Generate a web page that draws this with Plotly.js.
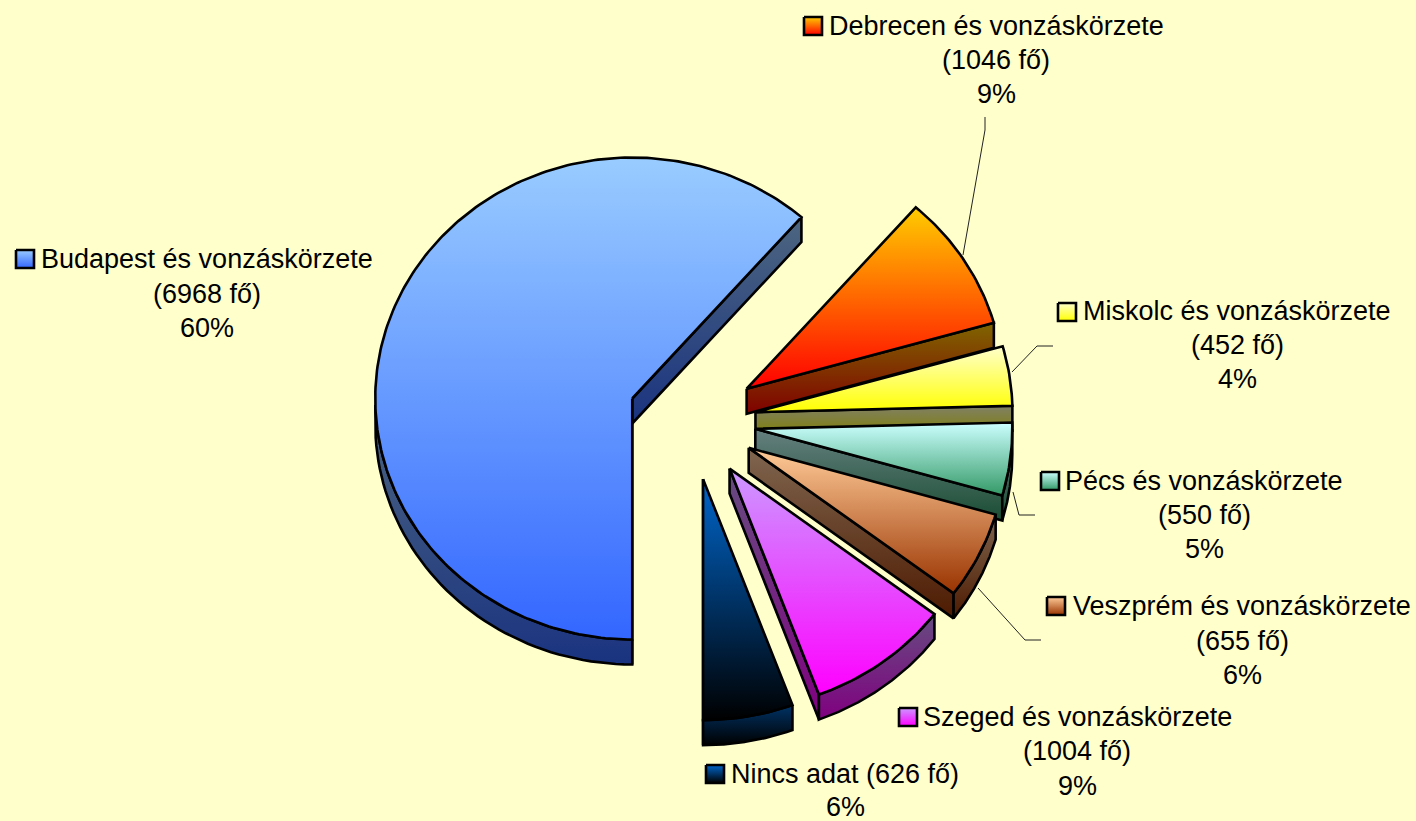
<!DOCTYPE html>
<html><head><meta charset="utf-8">
<script src="https://cdn.plot.ly/plotly-3.0.1.min.js"></script>
<style>html,body{margin:0;padding:0;background:#ffffcc;overflow:hidden}#c{width:1416px;height:821px}</style>
</head><body><div id="c"></div>
<script>
// ---- data ----
const categories = ["Budapest és vonzáskörzete","Debrecen és vonzáskörzete","Miskolc és vonzáskörzete","Pécs és vonzáskörzete","Veszprém és vonzáskörzete","Szeged és vonzáskörzete","Nincs adat"];
const persons = [6968,1046,452,550,655,1004,626];
const percents = [60,9,4,5,6,9,6];

// ---- styles ----
const topColors = ["#99ccff","#ffcc00","#ffffcc","#ccffff","#ffcc99","#cc99ff","#0066cc"];
const bottomColors = ["#3366ff","#ff0000","#ffff00","#339966","#993300","#ff00ff","#000000"];
const sideTop = ["#4d6680","#806600","#808066","#668080","#806650","#664d80","#003366"];
const sideBottom = ["#1a3380","#800000","#808000","#1a4d33","#4d1a00","#800080","#000000"];

// ---- layout of the drawing ----
const centerX = 692, centerY = 420, radiusX = 257, radiusY = 241, depth = 25, explode = 64;
const startAngle = 180, perspective = 1.2;
const labelX = [207,996,1237,1204,1242,1077,845];
const labelY = [[259,294,328],[26,60,94],[311,345,379],[481,515,549],[606,641,675],[717,751,786],[774,807]];
const keyX = [25,813,1067,1050,1056,908,715];
const keyY = [259,26,312,481,606,717,774];
const keyHalf = 9;
const leaderX = {1:[985,985,963],2:[1012,1037,1053],3:[1013,1019,1035],4:[978,1025,1041]};
const leaderY = {1:[117,130,255],2:[372,346,346],3:[492,515,515],4:[588,640,640]};

const rad = d => d*Math.PI/180;
const warp = d => d - perspective*Math.sin(rad(d));
const total = persons.reduce((a,b)=>a+b,0);
const traces = [], annotations = [];

function poly(name,xs,ys,cTop,cBottom,lw){
  traces.push({type:'scatter',mode:'lines',name:name,x:xs,y:ys,fill:'toself',
    fillgradient:{type:'vertical',colorscale:[[0,cBottom],[1,cTop]]},
    line:{color:'#000000',width:lw,shape:'linear'},hoverinfo:'name',showlegend:false});
}
// leader lines go beneath the slices
Object.keys(leaderX).forEach(i=>{
  traces.push({type:'scatter',mode:'lines',x:leaderX[i],y:leaderY[i],line:{color:'#222222',width:1},hoverinfo:'skip',showlegend:false});
});

let cum = startAngle;
persons.forEach((v,i)=>{
  const a0 = cum, a1 = cum + v/total*360; cum = a1;
  const a = warp(a0), b = warp(a1), mid = (a0+a1)/2;
  const ax = centerX + explode*Math.sin(rad(mid));
  const ay = centerY - explode*radiusY/radiusX*Math.cos(rad(mid));
  const px = d => ax + radiusX*Math.sin(rad(d));
  const py = d => ay - radiusY*Math.cos(rad(d));
  const eps = 1e-6;
  const name = categories[i];
  // radial side walls
  if (Math.sin(rad(a)) < eps) poly(name,[ax,px(a),px(a),ax,ax],[ay,py(a),py(a)+depth,ay+depth,ay],sideTop[i],sideBottom[i],2.6);
  if (Math.sin(rad(b)) > -eps) poly(name,[ax,px(b),px(b),ax,ax],[ay,py(b),py(b)+depth,ay+depth,ay],sideTop[i],sideBottom[i],2.6);
  // outer wall: only the part that faces down is visible
  const ra = [], norm = d => ((d%360)+360)%360;
  const n = 120;
  for (let k=0;k<=n;k++){ const d=a+(b-a)*k/n, m=norm(d); if(m>=90&&m<=270) ra.push(d); }
  if (ra.length>1){
    const xs = ra.map(px).concat(ra.slice().reverse().map(px)); 
    const ys = ra.map(py).concat(ra.slice().reverse().map(d=>py(d)+depth));
    xs.push(xs[0]); ys.push(ys[0]);
    poly(name,xs,ys,sideTop[i],sideBottom[i],2.6);
  }
  // top face
  const m = Math.max(8,Math.ceil((b-a)));
  const tx=[ax], ty=[ay];
  for(let k=0;k<=m;k++){const d=a+(b-a)*k/m; tx.push(px(d)); ty.push(py(d));}
  tx.push(ax); ty.push(ay);
  poly(name,tx,ty,topColors[i],bottomColors[i],2.6);
  // legend key
  const h = keyHalf;
  poly(name+' jel',[keyX[i]-h,keyX[i]+h,keyX[i]+h,keyX[i]-h,keyX[i]-h],[keyY[i]-h,keyY[i]-h,keyY[i]+h,keyY[i]+h,keyY[i]-h],topColors[i],bottomColors[i],2.6);
  // label text
  const lines = labelY[i].length===3
    ? [name,`(${v} fő)`,`${percents[i]}%`]
    : [`${name} (${v} fő)`,`${percents[i]}%`];
  lines.forEach((t,j)=>annotations.push({xref:'x',yref:'y',x:labelX[i],y:labelY[i][j],text:t,showarrow:false,
    xanchor:'center',yanchor:'middle',font:{family:'"Liberation Sans",Arial,sans-serif',size:27,color:'#000000'}}));
});

Plotly.newPlot('c',traces,{
  width:1416,height:821,margin:{l:0,r:0,t:0,b:0},
  paper_bgcolor:'#ffffcc',plot_bgcolor:'#ffffcc',showlegend:false,
  xaxis:{range:[0,1416],visible:false,fixedrange:true},
  yaxis:{range:[821,0],visible:false,fixedrange:true},
  annotations:annotations
},{displayModeBar:false});
</script></body></html>
